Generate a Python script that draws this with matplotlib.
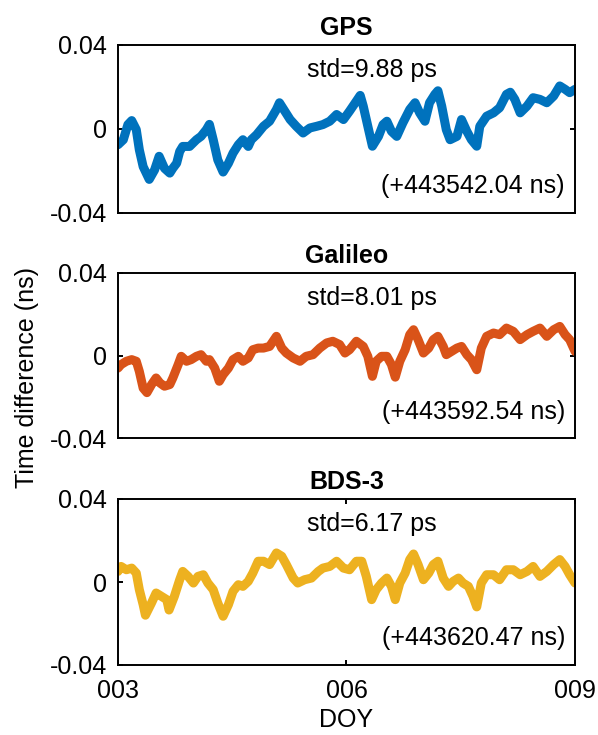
import matplotlib
matplotlib.use("Agg")
import matplotlib.pyplot as plt

plt.rcParams['font.family'] = ['Liberation Sans', 'DejaVu Sans']

titles = ["GPS", "Galileo", "BDS-3"]
std_labels = ["std=9.88 ps", "std=8.01 ps", "std=6.17 ps"]
offset_labels = ["(+443542.04 ns)", "(+443592.54 ns)", "(+443620.47 ns)"]
colors = ["#0072BD", "#D95319", "#EDB120"]
xtick_vals = [3, 6, 9]
xtick_labels = ["003", "006", "009"]
ytick_vals = [-0.04, 0, 0.04]
ytick_labels = ["-0.04", "0", "0.04"]

gps_doy = [3.00, 3.07, 3.13, 3.18, 3.24, 3.28, 3.33, 3.41, 3.48, 3.54, 3.61, 3.68, 3.72, 3.77,
           3.81, 3.85, 3.94, 4.03, 4.09, 4.16, 4.20, 4.25, 4.31, 4.38, 4.45, 4.51, 4.58, 4.64,
           4.71, 4.75, 4.82, 4.91, 4.99, 5.08, 5.12, 5.19, 5.26, 5.34, 5.43, 5.52, 5.61, 5.69,
           5.78, 5.87, 5.96, 6.04, 6.13, 6.18, 6.22, 6.28, 6.34, 6.42, 6.48, 6.53, 6.59, 6.66,
           6.74, 6.83, 6.90, 6.96, 7.03, 7.09, 7.16, 7.20, 7.25, 7.31, 7.36, 7.45, 7.51, 7.58,
           7.64, 7.71, 7.75, 7.84, 7.93, 8.01, 8.10, 8.15, 8.21, 8.28, 8.37, 8.45, 8.54, 8.63,
           8.72, 8.80, 8.87, 8.93, 9.00]
gps_val = [-0.0075, -0.0051, 0.0021, 0.0040, -0.0003, -0.0099, -0.0179, -0.0240, -0.0195, -0.0130,
           -0.0187, -0.0210, -0.0187, -0.0163, -0.0107, -0.0083, -0.0083, -0.0051, -0.0035, -0.0003,
           0.0022, -0.0051, -0.0147, -0.0205, -0.0163, -0.0115, -0.0075, -0.0051, -0.0083, -0.0051,
           -0.0027, 0.0013, 0.0037, 0.0093, 0.0125, 0.0085, 0.0045, 0.0013, -0.0019, 0.0005,
           0.0013, 0.0021, 0.0037, 0.0069, 0.0045, 0.0085, 0.0133, 0.0160, 0.0109, 0.0013,
           -0.0082, -0.0035, 0.0021, 0.0037, -0.0011, -0.0035, 0.0029, 0.0093, 0.0125, 0.0077,
           0.0037, 0.0125, 0.0165, 0.0182, 0.0109, -0.0003, -0.0051, -0.0035, 0.0045, -0.0011,
           -0.0051, -0.0082, 0.0013, 0.0061, 0.0077, 0.0101, 0.0165, 0.0175, 0.0141, 0.0077,
           0.0109, 0.0149, 0.0141, 0.0125, 0.0157, 0.0205, 0.0189, 0.0173, 0.0189]

gal_doy = [3.00, 3.04, 3.11, 3.18, 3.24, 3.28, 3.33, 3.38, 3.44, 3.50, 3.55, 3.61, 3.68, 3.72,
           3.79, 3.83, 3.90, 3.96, 4.03, 4.09, 4.16, 4.20, 4.27, 4.33, 4.38, 4.45, 4.51, 4.58,
           4.64, 4.71, 4.77, 4.84, 4.91, 4.99, 5.08, 5.15, 5.21, 5.30, 5.39, 5.47, 5.56, 5.65,
           5.74, 5.82, 5.91, 5.98, 6.04, 6.13, 6.22, 6.28, 6.34, 6.39, 6.46, 6.53, 6.59, 6.64,
           6.70, 6.77, 6.83, 6.88, 6.94, 7.01, 7.08, 7.14, 7.20, 7.27, 7.31, 7.38, 7.45, 7.51,
           7.58, 7.64, 7.71, 7.77, 7.84, 7.93, 8.01, 8.10, 8.19, 8.28, 8.37, 8.45, 8.54, 8.63,
           8.72, 8.80, 8.87, 8.93, 9.00]
gal_val = [-0.0061, -0.0044, -0.0028, -0.0020, -0.0028, -0.0077, -0.0158, -0.0180, -0.0141, -0.0109,
           -0.0133, -0.0149, -0.0141, -0.0109, -0.0044, -0.0004, -0.0028, -0.0020, -0.0004, 0.0004,
           -0.0028, -0.0020, -0.0061, -0.0125, -0.0093, -0.0061, -0.0020, -0.0004, -0.0028, -0.0012,
           0.0028, 0.0036, 0.0036, 0.0044, 0.0093, 0.0036, 0.0012, -0.0012, -0.0028, -0.0004,
           0.0004, 0.0036, 0.0061, 0.0069, 0.0053, 0.0012, 0.0028, 0.0069, 0.0044, -0.0004,
           -0.0101, -0.0028, -0.0004, -0.0004, -0.0044, -0.0105, -0.0028, 0.0028, 0.0101, 0.0125,
           0.0077, 0.0012, 0.0036, 0.0077, 0.0093, 0.0044, 0.0004, 0.0020, 0.0036, 0.0044,
           0.0004, -0.0020, -0.0069, 0.0036, 0.0093, 0.0109, 0.0101, 0.0133, 0.0117, 0.0077,
           0.0101, 0.0117, 0.0133, 0.0093, 0.0125, 0.0141, 0.0101, 0.0077, 0.0020]

bds_doy = [3.00, 3.04, 3.11, 3.18, 3.24, 3.28, 3.33, 3.36, 3.44, 3.50, 3.57, 3.64, 3.67, 3.74,
           3.81, 3.85, 3.92, 3.99, 4.05, 4.12, 4.18, 4.25, 4.31, 4.38, 4.45, 4.51, 4.58, 4.64,
           4.71, 4.77, 4.84, 4.91, 4.99, 5.08, 5.15, 5.21, 5.30, 5.36, 5.45, 5.54, 5.63, 5.69,
           5.78, 5.87, 5.96, 6.04, 6.13, 6.20, 6.26, 6.33, 6.39, 6.46, 6.53, 6.59, 6.64, 6.70,
           6.77, 6.83, 6.88, 6.94, 7.01, 7.08, 7.14, 7.20, 7.27, 7.34, 7.40, 7.47, 7.53, 7.60,
           7.66, 7.71, 7.77, 7.84, 7.93, 8.01, 8.10, 8.19, 8.28, 8.37, 8.45, 8.54, 8.63, 8.72,
           8.80, 8.87, 8.93, 9.00]
bds_val = [0.0051, 0.0075, 0.0059, 0.0067, 0.0043, -0.0037, -0.0109, -0.0160, -0.0101, -0.0053,
           -0.0069, -0.0085, -0.0135, -0.0069, 0.0011, 0.0051, 0.0027, -0.0005, 0.0027, 0.0035,
           -0.0005, -0.0037, -0.0101, -0.0165, -0.0109, -0.0045, -0.0013, -0.0021, 0.0003, 0.0043,
           0.0100, 0.0100, 0.0084, 0.0140, 0.0124, 0.0084, 0.0019, -0.0005, 0.0011, 0.0019,
           0.0051, 0.0067, 0.0075, 0.0100, 0.0067, 0.0059, 0.0100, 0.0100, 0.0027, -0.0085,
           -0.0037, -0.0005, 0.0019, -0.0021, -0.0085, -0.0005, 0.0043, 0.0108, 0.0135, 0.0084,
           0.0011, 0.0043, 0.0084, 0.0100, 0.0019, -0.0021, 0.0003, 0.0019, -0.0005, -0.0021,
           -0.0069, -0.0120, -0.0005, 0.0035, 0.0035, 0.0011, 0.0059, 0.0059, 0.0035, 0.0051,
           0.0075, 0.0027, 0.0051, 0.0084, 0.0108, 0.0075, 0.0035, -0.0005]

series_doy = [gps_doy, gal_doy, bds_doy]
series_val = [gps_val, gal_val, bds_val]

W, H = 598, 735
fig = plt.figure(figsize=(W / 100, H / 100), dpi=100)

boxes = [(118, 45, 213), (118, 273, 438), (118, 499, 665)]
right_px = 575
fs = 18

for i, (l, t, b) in enumerate(boxes):
    ax = fig.add_axes([l / W, 1 - b / H, (right_px - l) / W, (b - t) / H])
    ax.plot(series_doy[i], series_val[i], color=colors[i], lw=6.5,
            solid_joinstyle='round', solid_capstyle='round')
    ax.set_xlim(3, 9)
    ax.set_ylim(-0.04, 0.04)
    ax.set_yticks(ytick_vals)
    ax.set_yticklabels(ytick_labels)
    if i == 2:
        ax.set_xticks(xtick_vals)
        ax.set_xticklabels(xtick_labels)
        ax.set_xlabel("DOY", fontsize=fs, labelpad=4)
    else:
        ax.set_xticks([])
    ax.tick_params(direction='in', length=3.6, width=1.4, labelsize=fs,
                   top=True, right=True, pad=8)
    ax.tick_params(axis='x', pad=10)
    for sp in ax.spines.values():
        sp.set_linewidth(1.4)
    ax.set_title(titles[i], fontsize=fs, fontweight='bold', pad=7)
    ax.text(0.555, 0.85, std_labels[i], transform=ax.transAxes, ha='center',
            va='center', fontsize=fs)
    ax.text(0.978, 0.16, offset_labels[i], transform=ax.transAxes, ha='right',
            va='center', fontsize=fs)

fig.text(27 / W, 1 - 377 / H, "Time difference (ns)", rotation=90,
         ha='center', va='center', fontsize=fs)

fig.savefig("out.png", dpi=100)
